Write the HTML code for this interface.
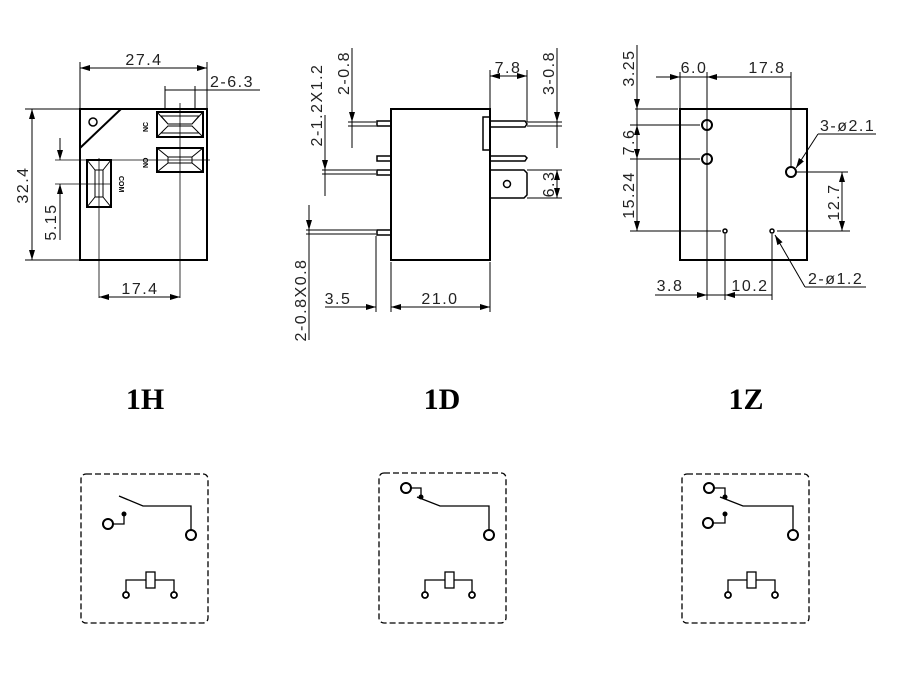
<!DOCTYPE html>
<html><head><meta charset="utf-8"><style>
body{margin:0;background:#fff;}
svg text{font-family:"Liberation Sans",sans-serif;}
</style></head><body>
<svg width="915" height="673" viewBox="0 0 915 673" xmlns="http://www.w3.org/2000/svg">
<defs>
<marker id="a" viewBox="0 0 10 6" refX="10" refY="3" markerWidth="10" markerHeight="6" orient="auto-start-reverse" markerUnits="userSpaceOnUse"><path d="M0,0L10,3L0,6z" fill="#000"/></marker>
</defs>
<g stroke="#000" fill="none" stroke-width="1">
<!-- 1H -->
<rect x="80" y="109" width="127" height="151" stroke-width="2"/>
<line x1="80" y1="148" x2="121" y2="109" stroke-width="2"/>
<circle cx="93" cy="122" r="4" stroke-width="1.5"/>
<rect x="157" y="112" width="46" height="25" stroke-width="2"/>
<path d="M161,116L199,116L192,124L168,124Z M161,133L199,133L192,126L168,126Z M157,112L168,124 M203,112L192,124 M157,137L168,126 M203,137L192,126"/>
<rect x="157" y="148" width="46" height="24" stroke-width="2"/>
<path d="M157,148L168,157 M203,148L192,157 M157,172L168,163 M203,172L192,163 M168,157H192V163H168Z"/>
<rect x="87" y="160" width="24" height="47" stroke-width="2"/>
<path d="M87,160L95,170 M111,160L103,170 M87,207L95,197 M111,207L103,197 M95,170V197H103V170Z"/>
<text x="148" y="132" font-size="7" font-weight="bold" fill="#000" stroke="none" transform="rotate(-90 148 132)">NC</text>
<text x="148" y="168" font-size="7" font-weight="bold" fill="#000" stroke="none" transform="rotate(-90 148 168)">NO</text>
<text x="119" y="176" font-size="7" font-weight="bold" fill="#000" stroke="none" transform="rotate(90 119 176)">COM</text>
<line x1="180" y1="103" x2="180" y2="298" stroke-width="0.8"/>
<line x1="99" y1="158" x2="99" y2="298" stroke-width="0.8"/>
<line x1="55" y1="160" x2="210" y2="160" stroke-width="0.8"/>
<line x1="55" y1="184" x2="112" y2="184" stroke-width="0.8"/>
<line x1="80" y1="62" x2="80" y2="109"/><line x1="207" y1="62" x2="207" y2="109"/>
<line x1="80" y1="68" x2="207" y2="68" marker-start="url(#a)" marker-end="url(#a)"/>
<line x1="165" y1="86" x2="165" y2="109"/><line x1="195" y1="86" x2="195" y2="109"/>
<line x1="165" y1="90" x2="260" y2="90"/>
<line x1="25" y1="109" x2="80" y2="109"/><line x1="25" y1="260" x2="80" y2="260"/>
<line x1="32" y1="109" x2="32" y2="260" marker-start="url(#a)" marker-end="url(#a)"/>
<line x1="60" y1="138" x2="60" y2="160" marker-end="url(#a)"/>
<line x1="60" y1="240" x2="60" y2="184" marker-end="url(#a)"/>
<line x1="99" y1="297" x2="180" y2="297" marker-start="url(#a)" marker-end="url(#a)"/>
<!-- 1D -->
<rect x="391" y="109" width="99" height="151" stroke-width="2"/>
<rect x="483" y="117" width="7" height="33" stroke-width="1.5"/>
<rect x="377" y="121" width="14" height="5" stroke-width="1.5"/>
<rect x="377" y="156" width="14" height="5" stroke-width="1.5"/>
<rect x="377" y="170" width="14" height="5" stroke-width="1.5"/>
<rect x="377" y="230" width="14" height="5" stroke-width="1.5"/>
<path d="M490,121H525L527,124L525,127H490" stroke-width="1.5"/>
<path d="M490,156H525L527,158L525,161H490" stroke-width="1.5"/>
<path d="M490,170H524L527,173V195L524,198H490" stroke-width="1.5"/>
<circle cx="507" cy="184" r="3.5" stroke-width="1.5"/>
<line x1="352" y1="48" x2="352" y2="148"/>
<line x1="348" y1="122" x2="376" y2="122"/><line x1="348" y1="126" x2="376" y2="126"/>
<line x1="352" y1="110" x2="352" y2="122" marker-end="url(#a)"/>
<line x1="325" y1="115" x2="325" y2="196"/>
<line x1="322" y1="170" x2="376" y2="170"/><line x1="322" y1="174" x2="376" y2="174"/>
<line x1="325" y1="155" x2="325" y2="170" marker-end="url(#a)"/>
<line x1="309" y1="205" x2="309" y2="340"/>
<line x1="306" y1="230" x2="376" y2="230"/><line x1="306" y1="234" x2="376" y2="234"/>
<line x1="309" y1="215" x2="309" y2="230" marker-end="url(#a)"/>
<line x1="376" y1="236" x2="376" y2="312"/><line x1="391" y1="262" x2="391" y2="312"/><line x1="490" y1="262" x2="490" y2="312"/>
<line x1="325" y1="307" x2="376" y2="307" marker-end="url(#a)"/>
<line x1="391" y1="307" x2="490" y2="307" marker-start="url(#a)" marker-end="url(#a)"/>
<line x1="490" y1="70" x2="490" y2="109"/><line x1="527" y1="70" x2="527" y2="122"/>
<line x1="490" y1="76" x2="527" y2="76" marker-start="url(#a)" marker-end="url(#a)"/>
<line x1="557" y1="48" x2="557" y2="148"/>
<line x1="527" y1="122" x2="562" y2="122"/><line x1="527" y1="126" x2="562" y2="126"/>
<line x1="557" y1="105" x2="557" y2="122" marker-end="url(#a)"/>
<line x1="527" y1="170" x2="562" y2="170"/><line x1="527" y1="198" x2="562" y2="198"/>
<line x1="557" y1="170" x2="557" y2="198" marker-start="url(#a)" marker-end="url(#a)"/>
<!-- 1Z -->
<rect x="680" y="109" width="127" height="151" stroke-width="2"/>
<circle cx="707" cy="125" r="5" stroke-width="2"/>
<circle cx="707" cy="159" r="5" stroke-width="2"/>
<circle cx="791" cy="172" r="5" stroke-width="2"/>
<circle cx="725" cy="231" r="2" stroke-width="1.5"/>
<circle cx="772" cy="231" r="2" stroke-width="1.5"/>
<line x1="637" y1="45" x2="637" y2="109" marker-end="url(#a)"/>
<line x1="637" y1="109" x2="637" y2="231"/>
<line x1="635" y1="109" x2="678" y2="109"/>
<line x1="630" y1="125" x2="700" y2="125"/><line x1="630" y1="159" x2="700" y2="159"/>
<line x1="630" y1="231" x2="721" y2="231"/><line x1="777" y1="231" x2="850" y2="231"/>
<line x1="637" y1="140" x2="637" y2="125" marker-end="url(#a)"/>
<line x1="637" y1="145" x2="637" y2="159" marker-end="url(#a)"/>
<line x1="637" y1="195" x2="637" y2="231" marker-end="url(#a)"/>
<line x1="680" y1="72" x2="680" y2="109"/>
<line x1="707" y1="72" x2="707" y2="300"/>
<line x1="791" y1="72" x2="791" y2="166"/>
<line x1="656" y1="77" x2="680" y2="77" marker-end="url(#a)"/>
<line x1="680" y1="77" x2="707" y2="77"/>
<line x1="707" y1="77" x2="791" y2="77" marker-start="url(#a)"/>
<line x1="797" y1="172" x2="848" y2="172"/>
<line x1="842" y1="172" x2="842" y2="231" marker-start="url(#a)" marker-end="url(#a)"/>
<line x1="725" y1="234" x2="725" y2="300"/><line x1="772" y1="234" x2="772" y2="300"/>
<line x1="655" y1="295" x2="707" y2="295" marker-end="url(#a)"/>
<line x1="725" y1="295" x2="772" y2="295" marker-start="url(#a)"/>
<line x1="707" y1="295" x2="725" y2="295"/>
<path d="M818,134L796,168" marker-end="url(#a)"/><line x1="818" y1="134" x2="876" y2="134"/>
<path d="M805,287L775,235" marker-end="url(#a)"/><line x1="805" y1="287" x2="866" y2="287"/>
<!-- schematics -->
<g stroke-dasharray="6,3" stroke-width="1.3">
<rect x="81" y="474" width="127" height="149" rx="5"/>
<rect x="379" y="473" width="127" height="150" rx="5"/>
<rect x="682" y="474" width="127" height="149" rx="5"/>
</g>
<g stroke-width="1.3">
<path d="M119,496L143,506H191V530"/><circle cx="191" cy="535" r="5" stroke-width="2"/>
<path d="M124,514V524H113"/><circle cx="108" cy="524" r="5" stroke-width="2"/>
<path d="M411,488H421V497"/><circle cx="406" cy="488" r="5" stroke-width="2"/>
<path d="M417,497L440,506H489V530"/><circle cx="489" cy="535" r="5" stroke-width="2"/>
<path d="M714,488H725V497"/><circle cx="709" cy="488" r="5" stroke-width="2"/>
<path d="M720,497L743,506H793V530"/><circle cx="793" cy="535" r="5" stroke-width="2"/>
<path d="M725,514V523H713"/><circle cx="708" cy="523" r="5" stroke-width="2"/>
<rect x="146" y="572" width="9" height="16"/><path d="M126,592V580H146 M155,580H174V592"/>
<circle cx="126" cy="595" r="3" stroke-width="1.8"/><circle cx="174" cy="595" r="3" stroke-width="1.8"/>
<rect x="445" y="572" width="9" height="16"/><path d="M425,592V580H445 M454,580H472V592"/>
<circle cx="425" cy="595" r="3" stroke-width="1.8"/><circle cx="472" cy="595" r="3" stroke-width="1.8"/>
<rect x="747" y="572" width="9" height="16"/><path d="M728,592V580H747 M756,580H775V592"/>
<circle cx="728" cy="595" r="3" stroke-width="1.8"/><circle cx="775" cy="595" r="3" stroke-width="1.8"/>
</g>
</g>
<g fill="#000">
<circle cx="124" cy="514" r="2.5"/><circle cx="421" cy="497" r="2.5"/>
<circle cx="725" cy="497" r="2.5"/><circle cx="725" cy="514" r="2.5"/>
</g>
<g font-size="16" fill="#222" letter-spacing="1.5">
<text x="144" y="65" text-anchor="middle">27.4</text>
<text x="210" y="87">2-6.3</text>
<text x="140" y="294" text-anchor="middle">17.4</text>
<text transform="translate(28,185) rotate(-90)" text-anchor="middle">32.4</text>
<text transform="translate(56,222) rotate(-90)" text-anchor="middle">5.15</text>
<text transform="translate(349,73) rotate(-90)" text-anchor="middle">2-0.8</text>
<text transform="translate(322,105) rotate(-90)" text-anchor="middle">2-1.2X1.2</text>
<text transform="translate(306,300) rotate(-90)" text-anchor="middle">2-0.8X0.8</text>
<text transform="translate(554,73) rotate(-90)" text-anchor="middle">3-0.8</text>
<text transform="translate(554,184) rotate(-90)" text-anchor="middle">6.3</text>
<text x="508" y="73" text-anchor="middle">7.8</text>
<text x="338" y="304" text-anchor="middle">3.5</text>
<text x="440" y="304" text-anchor="middle">21.0</text>
<text transform="translate(634,68) rotate(-90)" text-anchor="middle">3.25</text>
<text transform="translate(634,142) rotate(-90)" text-anchor="middle">7.6</text>
<text transform="translate(634,195) rotate(-90)" text-anchor="middle">15.24</text>
<text transform="translate(839,202) rotate(-90)" text-anchor="middle">12.7</text>
<text x="694" y="73" text-anchor="middle">6.0</text>
<text x="767" y="73" text-anchor="middle">17.8</text>
<text x="670" y="291" text-anchor="middle">3.8</text>
<text x="750" y="291" text-anchor="middle">10.2</text>
<text x="820" y="131">3-ø2.1</text>
<text x="808" y="284">2-ø1.2</text>
</g>
<g font-weight="bold" font-size="30" fill="#000" text-anchor="middle">
<text x="145" y="409" style="font-family:'Liberation Serif',serif">1H</text>
<text x="442" y="409" style="font-family:'Liberation Serif',serif">1D</text>
<text x="746" y="409" style="font-family:'Liberation Serif',serif">1Z</text>
</g>
</svg>
</body></html>
